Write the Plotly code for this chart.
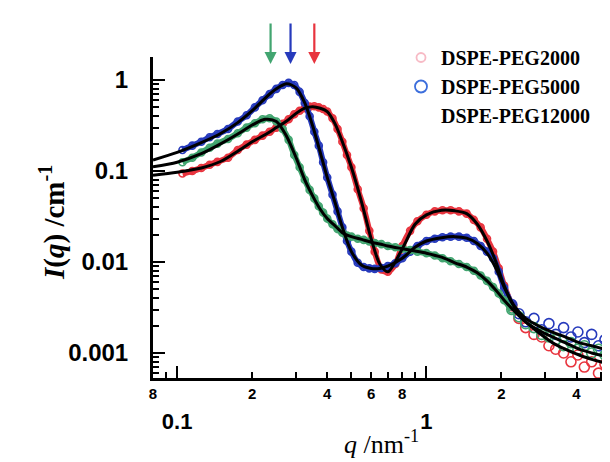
import math
import plotly.graph_objects as go

# ---------------- data ----------------
q = [0.105, 0.115, 0.125, 0.135, 0.145, 0.16, 0.175, 0.19, 0.205, 0.22, 0.235, 0.25,
     0.265, 0.28, 0.295, 0.31, 0.325, 0.34, 0.355, 0.37, 0.385, 0.40, 0.42, 0.44,
     0.46, 0.48, 0.50, 0.53, 0.56, 0.59, 0.62, 0.66, 0.70, 0.75, 0.80, 0.86, 0.92,
     1.0, 1.08, 1.16, 1.25, 1.35, 1.45, 1.55, 1.65, 1.75, 1.85, 1.95, 2.05, 2.2,
     2.35, 2.5, 2.7, 2.9, 3.1, 3.3, 3.55, 3.8, 4.05, 4.3, 4.6, 4.9, 5.2]

peg2000 = [0.094, 0.10, 0.108, 0.117, 0.126, 0.14, 0.17, 0.195, 0.22, 0.245, 0.27, 0.30,
           0.33, 0.37, 0.42, 0.46, 0.49, 0.51, 0.515, 0.50, 0.48, 0.45, 0.38, 0.29,
           0.21, 0.15, 0.11, 0.063, 0.039, 0.022, 0.013, 0.0083, 0.0078, 0.0095, 0.015, 0.022, 0.028,
           0.033, 0.036, 0.037, 0.037, 0.036, 0.034, 0.029, 0.024, 0.018, 0.013, 0.0085, 0.0055, 0.0033,
           0.0024, 0.0019, 0.0016, 0.0015, 0.0012, 0.0011, 0.0010, 0.0008, 0.00095, 0.0007, 0.0008, 0.0006, 0.00075]

peg5000 = [0.17, 0.19, 0.21, 0.235, 0.255, 0.29, 0.35, 0.41, 0.50, 0.60, 0.70, 0.80,
           0.88, 0.93, 0.88, 0.74, 0.56, 0.40, 0.27, 0.19, 0.125, 0.085, 0.055, 0.036,
           0.024, 0.017, 0.013, 0.0098, 0.0088, 0.0085, 0.0084, 0.0086, 0.009, 0.0097, 0.011, 0.013, 0.015,
           0.017, 0.018, 0.0187, 0.019, 0.019, 0.0185, 0.017, 0.015, 0.013, 0.011, 0.0078, 0.0052, 0.0034,
           0.0027, 0.0022, 0.0024, 0.0018, 0.0021, 0.0016, 0.0019, 0.0015, 0.0017, 0.0013, 0.0016, 0.0012, 0.0014]

peg12000 = [0.125, 0.14, 0.16, 0.18, 0.20, 0.225, 0.26, 0.30, 0.335, 0.37, 0.38, 0.35,
            0.29, 0.22, 0.15, 0.11, 0.08, 0.062, 0.05, 0.041, 0.035, 0.03, 0.026, 0.023,
            0.021, 0.0195, 0.019, 0.018, 0.0175, 0.0168, 0.0162, 0.0157, 0.015, 0.0145, 0.014, 0.0135, 0.013,
            0.0125, 0.0118, 0.011, 0.0102, 0.0095, 0.0088, 0.008, 0.0071, 0.0062, 0.0053, 0.0045, 0.0038, 0.003,
            0.0025, 0.0021, 0.0019, 0.0016, 0.0015, 0.0014, 0.0012, 0.0013, 0.0011, 0.0012, 0.001, 0.0011, 0.00095]

q_fit = [0.08, 0.1, 0.125, 0.15, 0.175, 0.2, 0.225, 0.25, 0.275, 0.3, 0.325, 0.35, 0.375,
         0.4, 0.43, 0.46, 0.5, 0.55, 0.6, 0.65, 0.7, 0.8, 0.9, 1.0, 1.15, 1.3, 1.45, 1.6,
         1.75, 1.9, 2.05, 2.25, 2.5, 2.8, 3.2, 3.6, 4.1, 4.6, 5.2]

fit2000 = [0.09, 0.097, 0.108, 0.128, 0.165, 0.21, 0.25, 0.30, 0.355, 0.43, 0.49, 0.51, 0.49,
           0.45, 0.33, 0.21, 0.11, 0.045, 0.018, 0.0095, 0.0078, 0.014, 0.026, 0.033, 0.037, 0.0365, 0.034, 0.026,
           0.017, 0.01, 0.0055, 0.0032, 0.0022, 0.0017, 0.0013, 0.0011, 0.00095, 0.00085, 0.00078]

fit5000 = [0.132, 0.16, 0.205, 0.26, 0.34, 0.46, 0.63, 0.80, 0.91, 0.82, 0.56, 0.31, 0.16,
           0.085, 0.045, 0.024, 0.013, 0.0092, 0.0085, 0.0085, 0.009, 0.011, 0.0145, 0.017, 0.0185, 0.019, 0.0183, 0.016,
           0.0125, 0.0085, 0.0053, 0.0033, 0.0024, 0.002, 0.0017, 0.0015, 0.0013, 0.0012, 0.0011]

fit12000 = [0.111, 0.125, 0.155, 0.20, 0.255, 0.32, 0.37, 0.35, 0.24, 0.14, 0.08, 0.053, 0.038,
            0.03, 0.025, 0.021, 0.019, 0.0177, 0.0165, 0.0158, 0.015, 0.014, 0.0132, 0.0125, 0.0113, 0.0098, 0.0088, 0.0076,
            0.0062, 0.0049, 0.0038, 0.0029, 0.0022, 0.0018, 0.0015, 0.0013, 0.0011, 0.001, 0.00092]

series_names = ["DSPE-PEG2000", "DSPE-PEG5000", "DSPE-PEG12000"]
peak_q = [0.355, 0.285, 0.237]          # arrows: red, blue, green

x_tick_vals = [0.08, 0.2, 0.4, 0.6, 0.8, 2, 4]
x_tick_text = ["8", "2", "4", "6", "8", "2", "4"]
x_minor_vals = [0.09, 0.3, 0.5, 0.7, 0.9, 3, 5]
x_major_vals = [0.1, 1]
x_major_text = ["0.1", "1"]
y_tick_vals = [1, 0.1, 0.01, 0.001]
y_tick_text = ["1", "0.1", "0.01", "0.001"]

# ---------------- style ----------------
RED = "rgb(232,52,62)"
BLUE = "rgb(38,58,188)"
GREEN = "rgb(66,165,112)"
colors = [RED, BLUE, GREEN]
SANS = "Liberation Sans"
SERIF = "Liberation Serif"

W, H = 610, 462
ML, MR, MT, MB = 145, 7, 49, 92
PW, PH = W - ML - MR, H - MT - MB

fig = go.Figure()

data_sets = [peg2000, peg5000, peg12000]
fit_sets = [fit2000, fit5000, fit12000]

for vals, col in zip(data_sets, colors):
    body = [i for i, qq in enumerate(q) if qq <= 2.2]
    tail = [i for i, qq in enumerate(q) if qq >= 2.2]
    fig.add_trace(go.Scatter(
        x=[q[i] for i in body], y=[vals[i] for i in body], mode="lines+markers",
        line=dict(color=col, width=6, shape="spline"),
        marker=dict(symbol="circle-open", size=7, color=col, line=dict(width=1.6)),
        showlegend=False, hoverinfo="skip"))
    fig.add_trace(go.Scatter(
        x=[q[i] for i in tail], y=[vals[i] for i in tail], mode="markers",
        marker=dict(symbol="circle-open", size=10, color=col, line=dict(width=1.6)),
        showlegend=False, hoverinfo="skip"))

for vals in fit_sets:
    fig.add_trace(go.Scatter(
        x=q_fit, y=vals, mode="lines",
        line=dict(color="black", width=3, shape="spline", smoothing=0.8),
        showlegend=False, hoverinfo="skip"))

# legend entries
legend_marker_colors = ["rgba(240,130,150,0.55)", "rgb(60,110,220)", "rgba(0,0,0,0)"]
legend_marker_sizes = [9, 12, 12]
for name, mc, ms in zip(series_names, legend_marker_colors, legend_marker_sizes):
    fig.add_trace(go.Scatter(
        x=[None], y=[None], mode="markers", name=name,
        marker=dict(symbol="circle-open", size=ms, color=mc, line=dict(width=1.8))))

# dummy trace for the overlay axis carrying the decade labels
fig.add_trace(go.Scatter(x=[None], y=[None], xaxis="x2", yaxis="y",
                         showlegend=False, hoverinfo="skip"))

xr = [math.log10(0.08), math.log10(5.5)]
yr = [-3.275, 0.253]

y_minor = [m * 10 ** e for e in range(-4, 1) for m in range(2, 10)]

fig.update_layout(
    width=W, height=H,
    margin=dict(l=ML, r=MR, t=MT, b=MB, autoexpand=False),
    paper_bgcolor="white", plot_bgcolor="white",
    font=dict(family=SANS, color="black"),
    xaxis=dict(
        type="log", range=xr, showgrid=False, zeroline=False,
        showline=True, linecolor="black", linewidth=3,
        ticks="inside", ticklen=6, tickwidth=2, tickcolor="black",
        tickmode="array", tickvals=x_tick_vals, ticktext=x_tick_text,
        tickfont=dict(family=SANS, size=15, weight="bold", color="black"),
        ticklabelstandoff=0,
        minor=dict(tickmode="array", tickvals=x_minor_vals, ticks="inside",
                   ticklen=6, tickwidth=2, tickcolor="black", showgrid=False),
    ),
    xaxis2=dict(
        type="log", range=xr, overlaying="x", anchor="y", side="bottom",
        showgrid=False, zeroline=False, showline=False,
        ticks="inside", ticklen=12, tickwidth=2, tickcolor="black",
        tickmode="array", tickvals=x_major_vals, ticktext=x_major_text,
        tickfont=dict(family=SANS, size=22, weight="bold", color="black"),
        ticklabelstandoff=28,
    ),
    yaxis=dict(
        type="log", range=yr, showgrid=False, zeroline=False,
        showline=True, linecolor="black", linewidth=3,
        ticks="inside", ticklen=12, tickwidth=2, tickcolor="black",
        tickmode="array", tickvals=y_tick_vals, ticktext=y_tick_text,
        tickfont=dict(family=SANS, size=24, weight="bold", color="black"),
        ticklabelstandoff=17,
        minor=dict(tickmode="array", tickvals=y_minor, ticks="inside",
                   ticklen=6, tickwidth=2, tickcolor="black", showgrid=False),
    ),
    legend=dict(
        x=(393 - ML) / PW, y=(H - MB - 30) / PH, xanchor="left", yanchor="top",
        bgcolor="rgba(0,0,0,0)", borderwidth=0, tracegroupgap=0,
        font=dict(family=SERIF, size=20, weight="bold", color="black"),
        itemwidth=30,
    ),
    showlegend=True,
)

# axis titles
fig.add_annotation(
    text="<b><i>I</i>(<i>q</i>) /cm<sup>-1</sup></b>", textangle=-90,
    xref="paper", yref="paper", x=(44 - ML) / PW, y=(H - MB - 215) / PH,
    xanchor="center", yanchor="middle", showarrow=False,
    font=dict(family=SERIF, size=29, color="black"))
fig.add_annotation(
    text="<i>q</i> /nm<sup>-1</sup>",
    xref="paper", yref="paper", x=(373 - ML) / PW, y=(H - MB - 434) / PH,
    xanchor="center", yanchor="middle", showarrow=False,
    font=dict(family=SERIF, size=26, color="black"))

# peak arrows
for pq, col in zip(peak_q, colors):
    fig.add_annotation(
        x=math.log10(pq), y=(H - MB - 56) / PH, xref="x", yref="paper",
        ax=0, ay=-42, axref="pixel", ayref="pixel", text="",
        showarrow=True, arrowhead=2, arrowsize=1.1, arrowwidth=2.2, arrowcolor=col)

fig.write_html("out.html")
